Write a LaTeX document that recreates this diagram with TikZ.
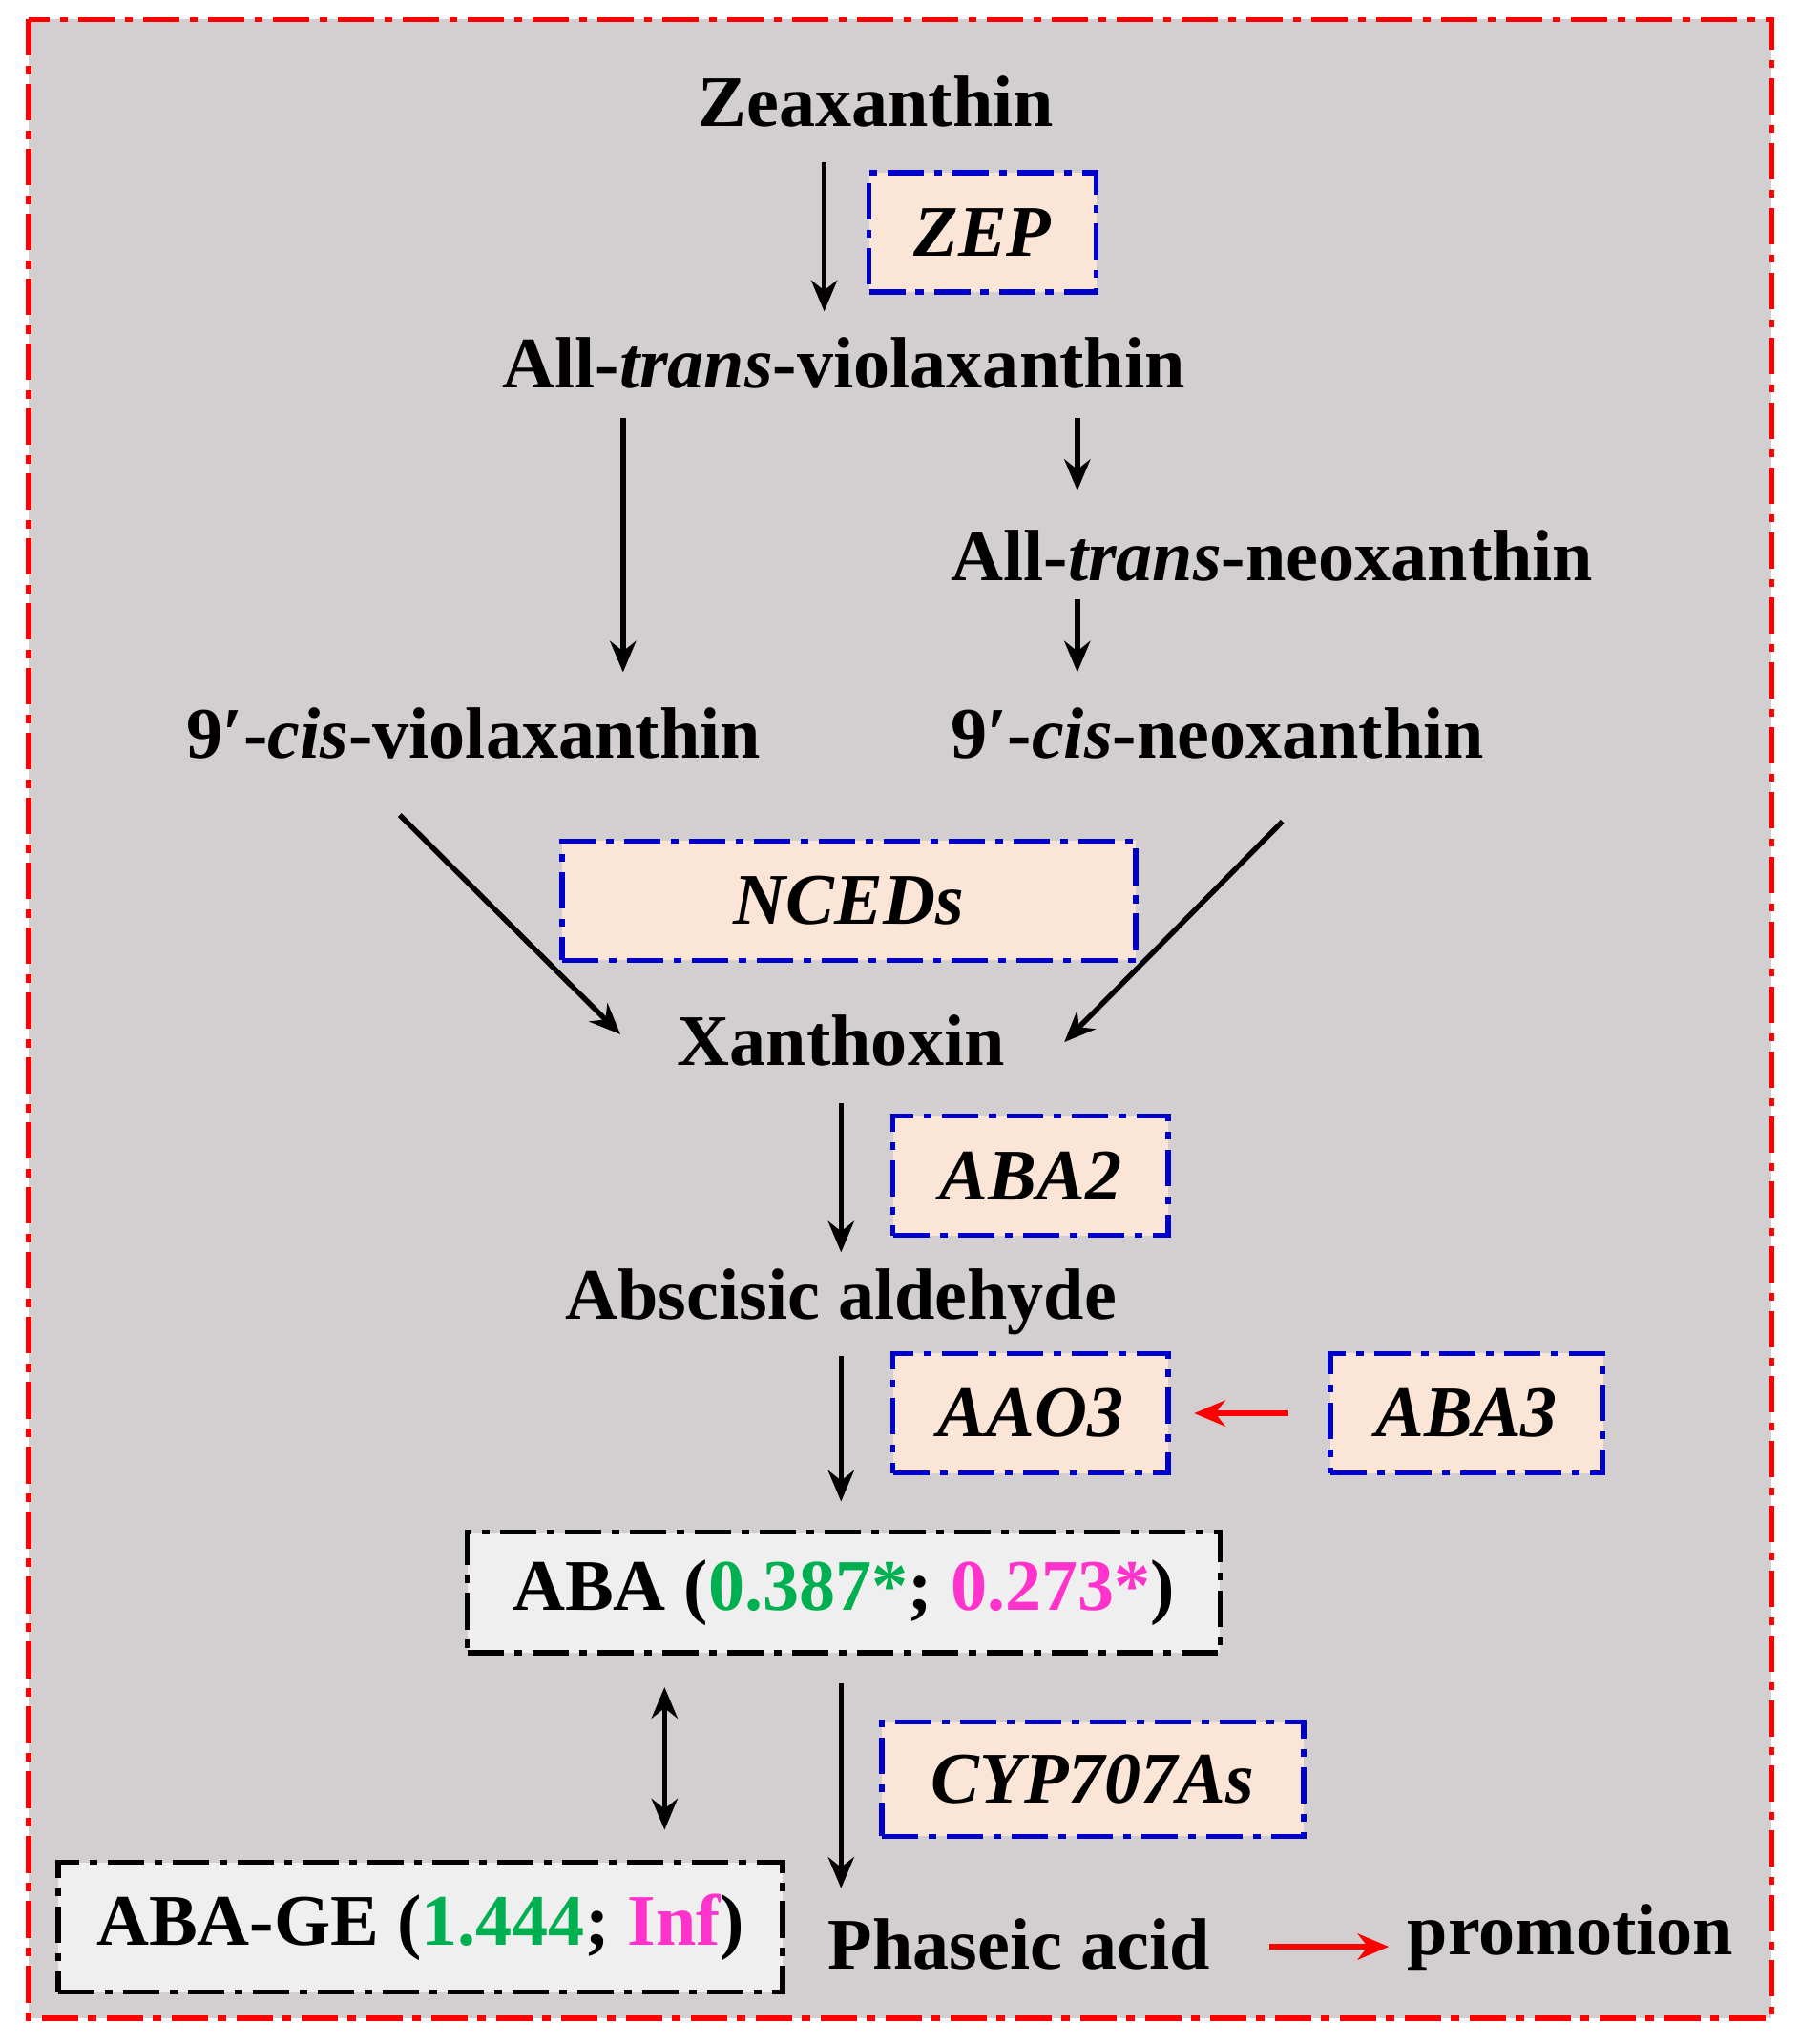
\documentclass[tikz,border=0pt]{standalone}
\usepackage{fontspec}
\setmainfont{Liberation Serif}
\usetikzlibrary{arrows.meta}
\definecolor{bg}{HTML}{D3CFD0}
\definecolor{peach}{HTML}{FBE5D6}
\definecolor{lgray}{HTML}{EFEFEF}
\definecolor{gr}{HTML}{00B050}
\definecolor{mg}{HTML}{FF33CC}
\definecolor{bl}{HTML}{0000CC}
\begin{document}
\begin{tikzpicture}[x=0.5pt,y=-0.5pt,
 dd/.style={dash pattern=on 14pt off 4pt on 3pt off 4pt},
 lbl/.style={font=\fontsize{28}{33}\selectfont\bfseries,inner sep=0pt},
 gene/.style={draw=bl,line width=2pt,dd,fill=peach,font=\fontsize{28}{33}\selectfont\bfseries\itshape},
 mbox/.style={draw=black,line width=2pt,dd,fill=lgray,font=\fontsize{28}{33}\selectfont\bfseries},
 arr/.style={-{Stealth[length=12pt,width=10pt]},line width=2pt},
 rarr/.style={-{Stealth[length=12pt,width=10pt]},line width=2.2pt,red}]
\useasboundingbox (0,0) rectangle (1386,1575);
\fill[white] (0,0) rectangle (1386,1575);
\draw[red,fill=bg,line width=2pt,dd] (22,15) rectangle (1365,1555);
\node[lbl] (zea) at (675,78) {Zeaxanthin};
\node[lbl] (atv) at (650,280) {All-\textit{trans}-violaxanthin};
\node[lbl] (atn) at (980,428) {All-\textit{trans}-neoxanthin};
\node[lbl] (cv) at (365,565) {9′-\textit{cis}-violaxanthin};
\node[lbl] (cn) at (938,565) {9′-\textit{cis}-neoxanthin};
\node[lbl] (xan) at (648,802) {Xanthoxin};
\node[lbl] (aald) at (648,1003) {Abscisic aldehyde};
\node[lbl] (pa) at (785,1498) {Phaseic acid};
\node[lbl] (prom) at (1210,1493) {promotion};
\node[gene,minimum width=175pt*0.5,minimum height=92pt*0.5] (zep) at (757,179) {ZEP};
\node[gene,minimum width=442pt*0.5,minimum height=92pt*0.5] (nced) at (654,694) {NCEDs};
\node[gene,minimum width=212pt*0.5,minimum height=92pt*0.5] (aba2) at (794,906) {ABA2};
\node[gene,minimum width=212pt*0.5,minimum height=92pt*0.5] (aao3) at (794,1089) {AAO3};
\node[gene,minimum width=210pt*0.5,minimum height=92pt*0.5] (aba3) at (1130,1089) {ABA3};
\node[gene,minimum width=325pt*0.5,minimum height=88pt*0.5] (cyp) at (842,1371) {CYP707As};
\node[mbox,minimum width=580pt*0.5,minimum height=93pt*0.5] (aba) at (650,1227) {ABA (\textcolor{gr}{0.387*}; \textcolor{mg}{0.273*})};
\node[mbox,minimum width=558pt*0.5,minimum height=100pt*0.5] (abage) at (324,1485) {ABA-GE (\textcolor{gr}{1.444}; \textcolor{mg}{Inf})};
\coordinate (a1s) at (635,125); \coordinate (a1e) at (635,240);
\draw[arr] (a1s) -- (a1e);
\coordinate (a2s) at (480,322); \coordinate (a2e) at (480,518);
\draw[arr] (a2s) -- (a2e);
\coordinate (a3s) at (830,322); \coordinate (a3e) at (830,378);
\draw[arr] (a3s) -- (a3e);
\coordinate (a4s) at (830,462); \coordinate (a4e) at (830,518);
\draw[arr] (a4s) -- (a4e);
\coordinate (a5s) at (308,628); \coordinate (a5e) at (478,797);
\draw[arr] (a5s) -- (a5e);
\coordinate (a6s) at (988,633); \coordinate (a6e) at (820,803);
\draw[arr] (a6s) -- (a6e);
\coordinate (a7s) at (648,850); \coordinate (a7e) at (648,965);
\draw[arr] (a7s) -- (a7e);
\coordinate (a8s) at (648,1045); \coordinate (a8e) at (648,1157);
\draw[arr] (a8s) -- (a8e);
\coordinate (a9s) at (648,1297); \coordinate (a9e) at (648,1455);
\draw[arr] (a9s) -- (a9e);
\coordinate (dbs) at (512,1300); \coordinate (dbe) at (512,1410);
\draw[arr,{Stealth[length=12pt,width=10pt]}-{Stealth[length=12pt,width=10pt]}] (dbs) -- (dbe);
\draw[rarr] ([xshift=-15pt]aba3.west) -- ([xshift=9pt]aao3.east);
\coordinate (rs) at (978,1500); \coordinate (re) at (1070,1500);
\draw[rarr] (rs) -- (re);
\end{tikzpicture}
\end{document}
